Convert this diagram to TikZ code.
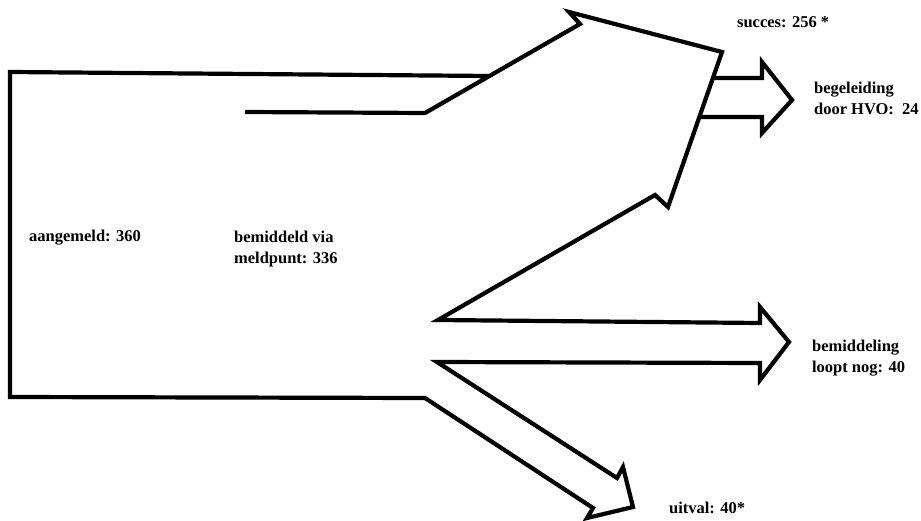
\documentclass[tikz,border=0pt]{standalone}
\usepackage{fontspec}
\setmainfont{Liberation Serif}
\def\strokewidth{4.2pt}
\def\fsize{16.5}
\def\fskip{21}
\newcommand{\tally}[3]{
    \node[anchor=west,inner sep=0pt,align=left,font=\bfseries\fontsize{\fsize}{\fskip}\selectfont] (#1) at (#2) {#3};
}

\begin{document}
\begin{tikzpicture}[x=1pt,y=-1pt,line width=\strokewidth]
    \useasboundingbox (0,0) rectangle (921,521);
    % the main flow with its three outlets
    \draw (490,76) -- (10,72) -- (10,397) -- (425,398)
        -- (593,508) -- (587,518) -- (633,507) -- (623,467) -- (617,478)
        -- (437,362) -- (760,363) -- (760,380) -- (789,342) -- (760,307) -- (760,323)
        -- (438,320) -- (655,195) -- (668,207) -- (722,52) -- (569,12) -- (580,24)
        -- (425,113) -- (245,112);
    % side outlet of the succes arrow
    \draw (713,78) -- (762,78) -- (762,62) -- (792,100) -- (762,133) -- (762,117) -- (699,117);
    \tally{succes}{735,22}{succes: 256 *}
    \tally{hvo}{812,98}{begeleiding\\door HVO:\ \ 24}
    \tally{aangemeld}{27,238}{aangemeld: 360}
    \tally{meldpunt}{232,249}{bemiddeld via\\meldpunt: 336}
    \tally{loopt}{810,358}{bemiddeling\\loopt nog: 40}
    \tally{uitval}{667,508}{uitval: 40*}
\end{tikzpicture}
\end{document}
